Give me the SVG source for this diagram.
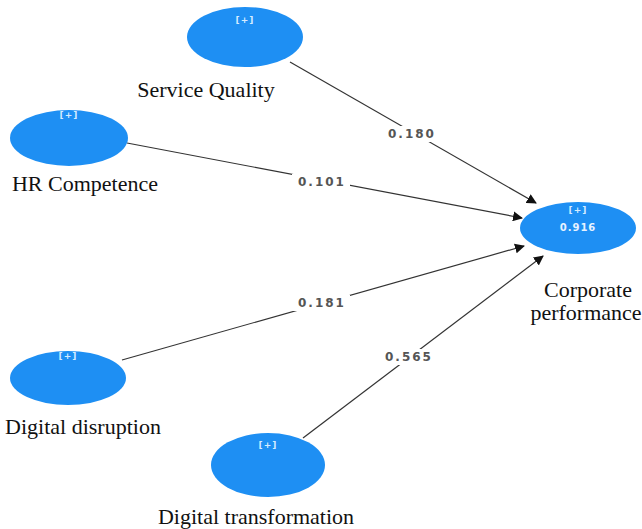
<svg xmlns="http://www.w3.org/2000/svg" width="642" height="529" viewBox="0 0 642 529">
<defs>
<marker id="arr" viewBox="0 0 10 10" refX="9" refY="5" markerWidth="10" markerHeight="10" markerUnits="userSpaceOnUse" orient="auto"><path d="M0,0 L10,5 L0,10 z" fill="#111"/></marker>
<style>
.node{fill:#1E8FF3;}
.plus{font-family:"DejaVu Sans",sans-serif;font-size:9px;fill:#d6ecff;text-anchor:middle;font-weight:bold;letter-spacing:1px;}
.val{font-family:"DejaVu Sans",sans-serif;font-size:10px;fill:#e6f2ff;text-anchor:middle;font-weight:bold;letter-spacing:1px;}
.lbl{font-family:"Liberation Serif","Times New Roman",serif;font-size:22px;fill:#111;text-anchor:middle;}
.edge{stroke:#333;stroke-width:1.2;fill:none;marker-end:url(#arr);}
.w{font-family:"DejaVu Sans",sans-serif;font-size:12px;fill:#555;text-anchor:middle;letter-spacing:2px;font-weight:bold;}
.bg{fill:#fff;}
</style>
</defs>
<rect width="642" height="529" fill="#fff"/>
<g id="connectors">
<line class="edge" x1="290" y1="62" x2="536" y2="203"/>
<line class="edge" x1="127" y1="143" x2="522" y2="218"/>
<line class="edge" x1="122" y1="360" x2="524" y2="246"/>
<line class="edge" x1="303" y1="438" x2="543" y2="256"/>
<rect class="bg" x="382" y="126" width="58" height="16"/>
<text class="w" x="412" y="138">0.180</text>
<rect class="bg" x="292" y="174" width="58" height="16"/>
<text class="w" x="322" y="186">0.101</text>
<rect class="bg" x="292" y="295" width="58" height="16"/>
<text class="w" x="322" y="307">0.181</text>
<rect class="bg" x="379" y="349" width="58" height="16"/>
<text class="w" x="409" y="361">0.565</text>
</g>
<g id="service-quality">
<ellipse class="node" cx="245" cy="37" rx="58" ry="30"/>
<text class="plus" x="245" y="23">[+]</text>
<text class="lbl" x="206" y="97">Service Quality</text>
</g>
<g id="hr-competence">
<ellipse class="node" cx="69" cy="138" rx="59" ry="28"/>
<text class="plus" x="69" y="118">[+]</text>
<text class="lbl" x="85" y="191">HR Competence</text>
</g>
<g id="corporate-performance">
<ellipse class="node" cx="578" cy="228" rx="58" ry="26"/>
<text class="plus" x="578" y="213">[+]</text>
<text class="val" x="578" y="231">0.916</text>
<text class="lbl" x="588" y="297">Corporate</text>
<text class="lbl" x="586" y="320">performance</text>
</g>
<g id="digital-disruption">
<ellipse class="node" cx="68" cy="378" rx="58" ry="27"/>
<text class="plus" x="68" y="359">[+]</text>
<text class="lbl" x="83" y="434">Digital disruption</text>
</g>
<g id="digital-transformation">
<ellipse class="node" cx="268" cy="465" rx="57" ry="32"/>
<text class="plus" x="268" y="448">[+]</text>
<text class="lbl" x="256" y="524">Digital transformation</text>
</g>
</svg>
